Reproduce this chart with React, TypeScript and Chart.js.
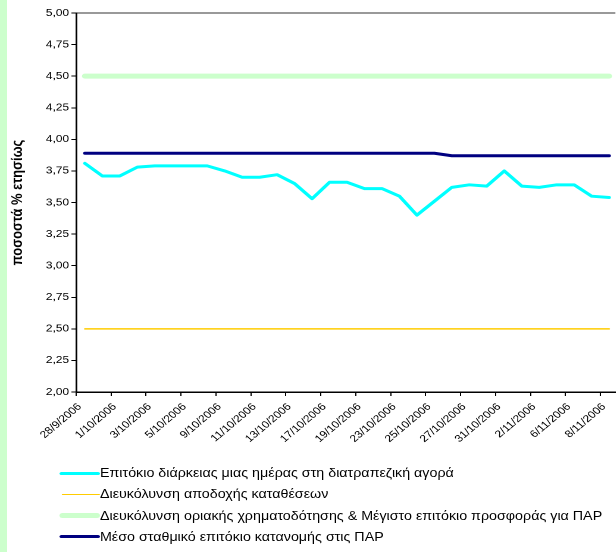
import React, { useEffect, useRef } from "react";
import { Chart, registerables } from "chart.js";

Chart.register(...registerables);

const dates = [
  "28/9/2006", "29/9/2006", "1/10/2006", "2/10/2006", "3/10/2006", "4/10/2006",
  "5/10/2006", "6/10/2006", "9/10/2006", "10/10/2006", "11/10/2006", "12/10/2006",
  "13/10/2006", "16/10/2006", "17/10/2006", "18/10/2006", "19/10/2006", "20/10/2006",
  "23/10/2006", "24/10/2006", "25/10/2006", "26/10/2006", "27/10/2006", "30/10/2006",
  "31/10/2006", "1/11/2006", "2/11/2006", "3/11/2006", "6/11/2006", "7/11/2006",
  "8/11/2006",
];

const overnightRate = [
  3.81, 3.71, 3.71, 3.78, 3.79, 3.79, 3.79, 3.79, 3.75, 3.70, 3.70, 3.72,
  3.65, 3.53, 3.66, 3.66, 3.61, 3.61, 3.55, 3.40, 3.51, 3.62, 3.64, 3.63,
  3.75, 3.63, 3.62, 3.64, 3.64, 3.55, 3.54,
];

const depositFacility = [
  2.5, 2.5, 2.5, 2.5, 2.5, 2.5, 2.5, 2.5, 2.5, 2.5, 2.5, 2.5, 2.5, 2.5, 2.5, 2.5,
  2.5, 2.5, 2.5, 2.5, 2.5, 2.5, 2.5, 2.5, 2.5, 2.5, 2.5, 2.5, 2.5, 2.5, 2.5,
];

const marginalLending = [
  4.5, 4.5, 4.5, 4.5, 4.5, 4.5, 4.5, 4.5, 4.5, 4.5, 4.5, 4.5, 4.5, 4.5, 4.5, 4.5,
  4.5, 4.5, 4.5, 4.5, 4.5, 4.5, 4.5, 4.5, 4.5, 4.5, 4.5, 4.5, 4.5, 4.5, 4.5,
];

const weightedAverage = [
  3.89, 3.89, 3.89, 3.89, 3.89, 3.89, 3.89, 3.89, 3.89, 3.89, 3.89, 3.89,
  3.89, 3.89, 3.89, 3.89, 3.89, 3.89, 3.89, 3.89, 3.89, 3.87, 3.87, 3.87,
  3.87, 3.87, 3.87, 3.87, 3.87, 3.87, 3.87,
];

const seriesLabels = [
  "Επιτόκιο διάρκειας μιας ημέρας στη διατραπεζική αγορά",
  "Διευκόλυνση αποδοχής καταθέσεων",
  "Διευκόλυνση οριακής χρηματοδότησης & Μέγιστο επιτόκιο προσφοράς για ΠΑΡ",
  "Μέσο σταθμικό επιτόκιο κατανομής στις ΠΑΡ",
];

const yAxisTitle = "ποσοστά % ετησίως";

const FONT = "'Liberation Sans', Arial, sans-serif";

// The reference picture is stretched horizontally; the chart is drawn at
// a narrower width and widened with a CSS transform.
const STRETCH = 1.19;
const INNER_W = 616 / STRETCH;

const legendStyles = [
  { color: "#00FFFF", width: 3, left: 50.4 },
  { color: "#FFCC00", width: 1.5, left: 52 },
  { color: "#CCFFCC", width: 5, left: 50.4 },
  { color: "#000080", width: 3, left: 50.4 },
];
const LEGEND_TEXT_X = 84;

function toPoints(values: number[]) {
  return values.map((v, i) => ({ x: i, y: v }));
}

export default function App() {
  const canvasRef = useRef<HTMLCanvasElement | null>(null);

  useEffect(() => {
    if (!canvasRef.current) return;
    const common = {
      pointRadius: 0,
      pointHoverRadius: 0,
      fill: false,
      tension: 0,
      borderCapStyle: "round" as const,
      borderJoinStyle: "round" as const,
    };
    const chart = new Chart(canvasRef.current, {
      type: "line",
      data: {
        datasets: [
          { ...common, label: seriesLabels[2], data: toPoints(marginalLending), borderColor: "#CCFFCC", borderWidth: 5 },
          { ...common, label: seriesLabels[1], data: toPoints(depositFacility), borderColor: "#FFCC00", borderWidth: 1.5 },
          { ...common, label: seriesLabels[3], data: toPoints(weightedAverage), borderColor: "#000080", borderWidth: 3 },
          { ...common, label: seriesLabels[0], data: toPoints(overnightRate), borderColor: "#00FFFF", borderWidth: 3 },
        ],
      },
      options: {
        animation: false,
        responsive: false,
        devicePixelRatio: 2,
        layout: { padding: { top: 13, left: 0, right: 0, bottom: 0 } },
        plugins: {
          legend: { display: false },
          tooltip: { enabled: false },
        },
        scales: {
          x: {
            type: "linear",
            min: -0.5,
            max: 30.36,
            afterBuildTicks: (scale: any) => {
              const t: { value: number }[] = [];
              for (let i = 0; i < dates.length; i += 2) t.push({ value: i - 0.5 });
              scale.ticks = t;
            },
            afterFit: (scale: any) => {
              scale.height = 68;
            },
            ticks: {
              autoSkip: false,
              minRotation: 45,
              maxRotation: 45,
              labelOffset: 3,
              padding: 5,
              color: "#000",
              font: { family: FONT, size: 10 },
              callback: (value: any) => {
                const idx = Math.round(Number(value) + 0.5);
                return dates[idx] ?? "";
              },
            },
            grid: {
              drawOnChartArea: false,
              drawTicks: true,
              tickLength: 4,
              tickColor: "#000",
              lineWidth: 1,
            },
            border: { display: true, color: "#000", width: 1.5 },
          },
          y: {
            min: 2,
            max: 5,
            afterFit: (scale: any) => {
              scale.width = 64;
            },
            ticks: {
              stepSize: 0.25,
              color: "#000",
              padding: 2,
              font: { family: FONT, size: 10 },
              callback: (value: any) => Number(value).toFixed(2).replace(".", ","),
            },
            grid: {
              drawOnChartArea: true,
              drawTicks: true,
              tickLength: 4,
              tickColor: "#000",
              color: (ctx: any) => (ctx.tick && ctx.tick.value === 5 ? "#333" : "rgba(0,0,0,0)"),
              lineWidth: 1,
            },
            border: { display: true, color: "#000", width: 1.5 },
            title: {
              display: true,
              text: yAxisTitle,
              color: "#000",
              font: { family: FONT, size: 13, weight: "bold" },
              padding: { top: 7, bottom: 0 },
            },
          },
        },
      },
    } as any);
    return () => chart.destroy();
  }, []);

  return (
    <div
      style={{
        position: "fixed",
        left: 0,
        top: 0,
        width: 616,
        height: 552,
        overflow: "hidden",
        background: "#fff",
      }}
    >
      <div
        style={{
          position: "absolute",
          left: 0,
          top: 0,
          width: INNER_W,
          height: 552,
          transform: `scaleX(${STRETCH})`,
          transformOrigin: "0 0",
          fontFamily: FONT,
        }}
      >
        <canvas
          ref={canvasRef}
          width={Math.round(INNER_W)}
          height={460}
          style={{ position: "absolute", left: 0, top: 0, width: Math.round(INNER_W), height: 460 }}
        />
        <div style={{ position: "absolute", left: 0, top: 0, width: 7 / STRETCH, height: 552, background: "#CCFFCC" }} />
        {seriesLabels.map((label, i) => (
          <div
            key={label}
            style={{
              position: "absolute",
              left: 0,
              top: 465 + i * 21.3,
              height: 16,
              width: INNER_W,
            }}
          >
            <div
              style={{
                position: "absolute",
                left: legendStyles[i].left,
                width: LEGEND_TEXT_X - legendStyles[i].left,
                top: 8 - legendStyles[i].width / 2,
                height: legendStyles[i].width,
                background: legendStyles[i].color,
                borderRadius: legendStyles[i].width / 2,
              }}
            />
            <div
              style={{
                position: "absolute",
                left: LEGEND_TEXT_X,
                top: 0,
                fontSize: 12,
                lineHeight: "16px",
                color: "#000",
                whiteSpace: "nowrap",
              }}
            >
              {label}
            </div>
          </div>
        ))}
      </div>
    </div>
  );
}
